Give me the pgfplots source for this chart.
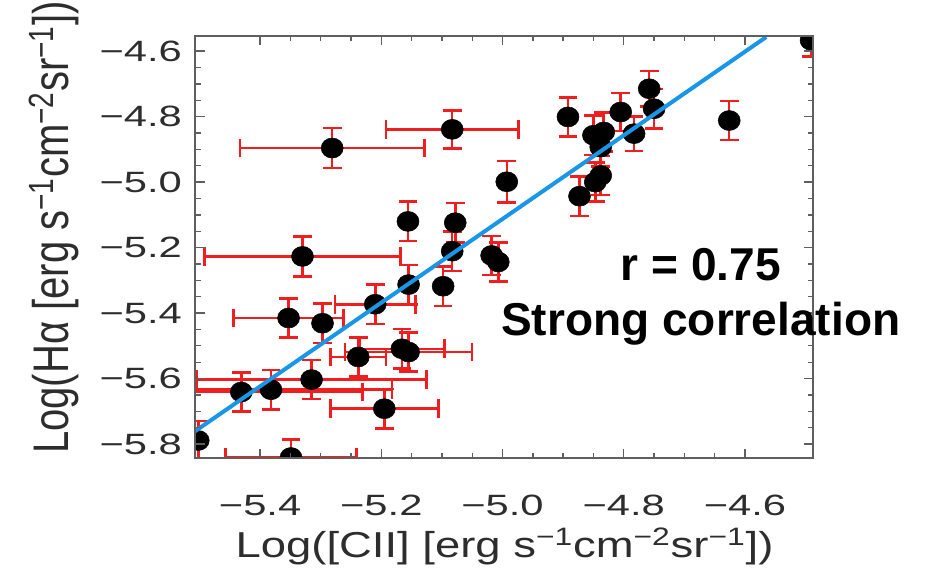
\documentclass[border=0pt]{standalone}
\usepackage{pgfplots}
\pgfplotsset{compat=1.18}
\usepackage{pgfplotstable}
\usepackage{graphicx}
\usepackage{fontspec}
\setmainfont{Liberation Sans}

\definecolor{framegray}{RGB}{95,95,95}
\definecolor{txtgray}{RGB}{45,45,45}
\definecolor{errred}{RGB}{240,30,30}
\definecolor{fitblue}{RGB}{25,150,230}

% tick labels of the original are set wide
\newcommand\tl[1]{\scalebox{1.42}[1]{#1}}

% log [CII] vs log Halpha, with errors
\pgfplotstableread{
x      y      ex     ey
-5.281 -4.896 0.152 0.061
-5.083 -4.839 0.109 0.058
-5.156 -5.120 0     0.060
-5.078 -5.124 0     0.060
-4.993 -4.999 0     0.063
-4.892 -4.801 0     0.060
-4.805 -4.786 0     0.058
-4.758 -4.715 0     0.054
-4.750 -4.776 0     0.060
-4.626 -4.812 0     0.059
-4.783 -4.852 0     0.053
-4.850 -4.857 0     0.060
-4.833 -4.847 0     0.060
-4.838 -4.893 0     0.060
-4.838 -4.980 0     0.060
-4.847 -5.000 0     0.060
-4.873 -5.043 0     0.060
-4.491 -4.567 0     0.050
-5.330 -5.227 0.162 0.061
-5.083 -5.211 0     0.060
-5.018 -5.224 0     0.060
-5.007 -5.244 0     0.060
-5.155 -5.313 0     0.060
-5.098 -5.318 0     0.060
-5.210 -5.373 0.066 0.060
-5.353 -5.415 0.091 0.060
-5.297 -5.431 0     0.060
-5.238 -5.534 0.046 0.060
-5.166 -5.509 0.070 0.060
-5.155 -5.519 0.105 0.060
-5.315 -5.603 0.190 0.060
-5.431 -5.641 0.200 0.060
-5.382 -5.634 0.200 0.060
-5.195 -5.692 0.089 0.060
-5.502 -5.789 0     0.060
-5.349 -5.841 0.108 0.055
}\cii

\begin{document}
\begin{tikzpicture}
\useasboundingbox (-146.25pt,-86.25pt) rectangle (548.25pt,343.5pt);
\begin{axis}[
    at={(0,0)}, anchor=south west,
    scale only axis, width=462.75pt, height=316.5pt,
    xmin=-5.507, xmax=-4.488, ymin=-5.844, ymax=-4.554,
    xtick={-5.4,-5.2,-5.0,-4.8,-4.6},
    xticklabels={\tl{−5.4},\tl{−5.2},\tl{−5.0},\tl{−4.8},\tl{−4.6}},
    ytick={-5.8,-5.6,-5.4,-5.2,-5.0,-4.8,-4.6},
    yticklabels={\tl{−5.8},\tl{−5.6},\tl{−5.4},\tl{−5.2},\tl{−5.0},\tl{−4.8},\tl{−4.6}},
    minor x tick num=3, minor y tick num=3,
    tick align=inside,
    major tick length=7pt, minor tick length=4pt,
    tick style={framegray, line width=1pt},
    axis line style={framegray, line width=1.5pt},
    ticklabel style={font=\fontsize{22}{26}\selectfont, text=txtgray, inner sep=0pt},
    xticklabel style={anchor=base, yshift=-42.75pt},
    yticklabel style={anchor=east, xshift=-9.75pt},
    axis on top,
    clip marker paths=true,
]
  % error bars first, dots over them
  \addplot[only marks, mark=none, forget plot,
    error bars/.cd, x dir=both, x explicit, y dir=both, y explicit,
    error bar style={draw=errred, line width=1.9pt},
    error mark options={rotate=90, errred, mark size=7pt, line width=1.9pt}]
    table[x=x, y=y, x error=ex, y error=ey] {\cii};
  \addplot[only marks, mark=*, mark size=7.5pt,
    mark options={draw=black, fill=black, xscale=1.1}]
    table[x=x, y=y] {\cii};
  % least-squares line
  \addplot[fitblue, line width=3pt] coordinates {(-5.509,-5.763) (-4.565,-4.557)};
\end{axis}
% axis titles
\node[anchor=base, text=txtgray, inner sep=0pt] at (231.75pt,-74.25pt)
  {\fontsize{27}{30}\selectfont\scalebox{1.26}[1]{Log([CII] [erg s\textsuperscript{−1}cm\textsuperscript{−2}sr\textsuperscript{−1}])}};
\node[rotate=90, anchor=base, text=txtgray, inner sep=0pt] at (-95.25pt,172.9pt)
  {\fontsize{30}{34}\selectfont\scalebox{1}[1.25]{Log(Hα [erg s\textsuperscript{−1}cm\textsuperscript{−2}sr\textsuperscript{−1}])}};
% annotation
\node[anchor=base, inner sep=0pt] at (378.75pt,133.5pt)
  {\fontsize{34.5}{40}\selectfont\bfseries r = 0.75};
\node[anchor=base, inner sep=0pt] at (378.75pt,92.25pt)
  {\fontsize{34.5}{40}\selectfont\bfseries Strong correlation};
\end{tikzpicture}
\end{document}
